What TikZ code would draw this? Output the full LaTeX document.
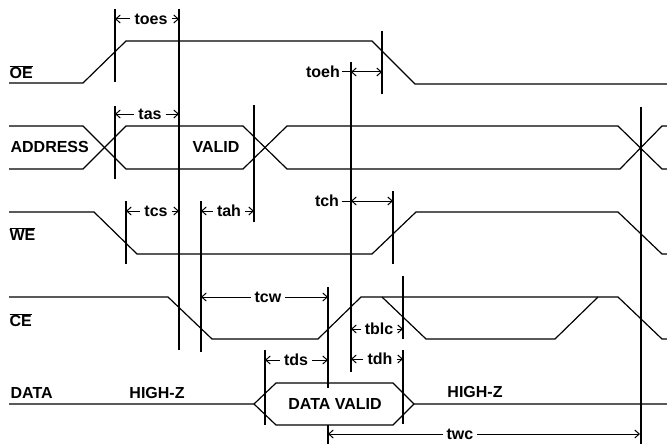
\documentclass[tikz,border=0pt]{standalone}
\usepackage{fontspec}
\setmainfont{Liberation Sans}
\usetikzlibrary{arrows.meta}
\newcommand{\ovl}[1]{$\overline{\hbox{#1}}$}
\begin{document}
\begin{tikzpicture}[x=1pt,y=-1pt,line width=1.2pt,line join=miter,
  lbl/.style={font=\bfseries\fontsize{16}{17}\selectfont,inner sep=0pt,text depth=0pt},
  tl/.style={font=\bfseries\fontsize{16}{17}\selectfont,inner sep=3.5pt,text depth=0pt},
  dimarr/.style={line width=1pt,-{Straight Barb[length=4.5pt,width=8pt]}},
  dimboth/.style={line width=1pt,{Straight Barb[length=4.5pt,width=8pt]}-{Straight Barb[length=4.5pt,width=8pt]}},
  lead/.style={line width=1pt}]
\useasboundingbox (0,0) rectangle (667,444);

% signal names
\node[lbl,anchor=west] (nOE) at (9,72) {\ovl{OE}};
\node[lbl,anchor=west] (nADDR) at (10,147) {ADDRESS};
\node[lbl,anchor=west] (nWE) at (9,234) {\ovl{WE}};
\node[lbl,anchor=west] (nCE) at (9,320) {\ovl{CE}};
\node[lbl,anchor=west] (nDATA) at (10,393) {DATA};
\node[lbl] (valid) at (216,147) {VALID};
\node[lbl] (hz1) at (157,393) {HIGH-Z};
\node[lbl] (dv) at (335,404) {DATA VALID};
\node[lbl] (hz2) at (475,392) {HIGH-Z};

% waveforms
\draw (9,83) -- (83,83) -- (126,41) -- (372,41) -- (415,84) -- (667,84);
\draw (9,126) -- (83,126) -- (126,169) -- (243,169) -- (287,126) -- (618,126) -- (662,169) -- (667,169);
\draw (9,169) -- (83,169) -- (126,126) -- (243,126) -- (287,169) -- (620,169) -- (662,126) -- (667,126);
\draw (9,212) -- (94,212) -- (137,254) -- (372,254) -- (416,212) -- (618,212) -- (662,254) -- (667,254);
\draw (9,297) -- (168,297) -- (212,339) -- (318,339) -- (361,297) -- (618,297) -- (662,339) -- (667,339);
\draw (382,297) -- (426,339) -- (555,339) -- (598,297);
\draw (9,404) -- (254,404) -- (276,383) -- (393,383) -- (414,404) -- (667,404);
\draw (254,404) -- (276,425) -- (393,425) -- (414,404);

% vertical reference lines
\begin{scope}[line width=1.2pt]
\draw (115,9) -- (115,82);
\draw (115,106) -- (115,179);
\draw (179,9) -- (179,350);
\draw (254,105) -- (254,222);
\draw (351,62) -- (351,372);
\draw (382,31) -- (382,94);
\draw (641,107) -- (641,444);
\draw (126,201) -- (126,264);
\draw (201,201) -- (201,352);
\draw (393,191) -- (393,264);
\draw (328,287) -- (328,388);
\draw (328,425) -- (328,444);
\draw (265,350) -- (265,425);
\draw (403,276) -- (403,339);
\draw (403,350) -- (403,424);
\end{scope}

% dimension coordinates
\coordinate (toesL) at (115,19);  \coordinate (toesR) at (179,19);
\coordinate (tasL) at (115,114);  \coordinate (tasR) at (179,114);
\coordinate (tcsL) at (126,211);  \coordinate (tcsR) at (179,211);
\coordinate (tahL) at (201,211);  \coordinate (tahR) at (254,211);
\coordinate (toehL) at (351,72);  \coordinate (toehR) at (382,72);
\coordinate (tchL) at (351,201);  \coordinate (tchR) at (393,201);
\coordinate (tcwL) at (201,297);  \coordinate (tcwR) at (328,297);
\coordinate (tdsL) at (265,360);  \coordinate (tdsR) at (328,360);
\coordinate (tblcL) at (351,329); \coordinate (tblcR) at (403,329);
\coordinate (tdhL) at (351,359);  \coordinate (tdhR) at (403,359);
\coordinate (twcL) at (328,434);  \coordinate (twcR) at (640,434);

% dimension labels
\node[tl] (toes) at (151,19) {toes};
\node[tl] (tas) at (150,114) {tas};
\node[tl] (tcs) at (156,211) {tcs};
\node[tl] (tah) at (229,211) {tah};
\node[tl,inner sep=2pt] (toeh) at (323,72) {toeh};
\node[tl,inner sep=2pt] (tch) at (327,201) {tch};
\node[tl] (tcw) at (268,297) {tcw};
\node[tl] (tds) at (296,360) {tds};
\node[tl] (tblc) at (379,329) {tblc};
\node[tl] (tdh) at (380,359) {tdh};
\node[tl] (twc) at (460,434) {twc};

% dimension arrows
\foreach \n in {toes,tas,tcs,tah,tcw,tds,tblc,tdh,twc}{
  \draw[dimarr] (\n) -- (\n L);
  \draw[dimarr] (\n) -- (\n R);
}
\draw[lead] (toeh) -- (toehL);
\draw[dimboth] (toehL) -- (toehR);
\draw[lead] (tch) -- (tchL);
\draw[dimboth] (tchL) -- (tchR);
\end{tikzpicture}
\end{document}
